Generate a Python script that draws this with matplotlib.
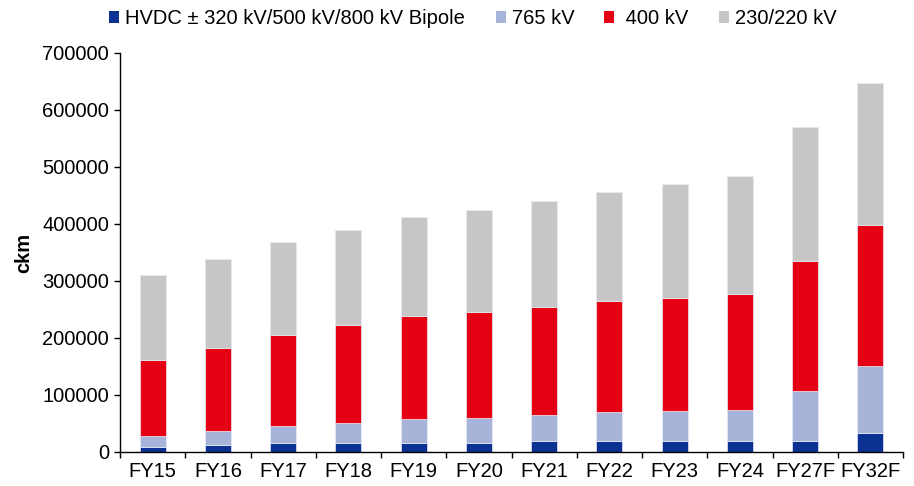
import matplotlib
matplotlib.use("Agg")
import matplotlib.pyplot as plt
import numpy as np
from matplotlib.ticker import FixedLocator
from matplotlib.patches import Patch

plt.rcParams['font.family'] = ['Liberation Sans', 'DejaVu Sans']

categories = ["FY15", "FY16", "FY17", "FY18", "FY19", "FY20", "FY21", "FY22", "FY23", "FY24", "FY27F", "FY32F"]
hvdc = [8000, 12000, 15000, 15000, 15000, 15000, 19000, 19000, 19000, 19000, 19000, 34000]
kv765 = [20000, 25000, 31000, 35000, 42000, 45000, 46000, 51000, 53000, 55000, 88000, 116000]
kv400 = [134000, 145000, 159000, 172000, 181000, 185000, 190000, 194000, 198000, 203000, 228000, 249000]
kv230 = [148000, 156000, 163000, 168000, 175000, 180000, 186000, 192000, 201000, 208000, 236000, 249000]

series = [
    ("HVDC \u00b1 320 kV/500 kV/800 kV Bipole", hvdc, "#0B3192"),
    ("765 kV", kv765, "#A7B3D9"),
    (" 400 kV", kv400, "#E60013"),
    ("230/220 kV", kv230, "#C6C6C6"),
]
legend_x_px = [109, 496, 604, 719]

FS = 14.5
fig = plt.figure(figsize=(9.14, 4.86), dpi=100)
ax = fig.add_axes([0.1313, 0.070, 0.8567, 0.821])

x = np.arange(len(categories))
bottom = np.zeros(len(categories))
for name, vals, col in series:
    ax.bar(x, vals, width=0.4, bottom=bottom, color=col, edgecolor="#E8EAF4", linewidth=0.5, label=name)
    bottom += np.array(vals)

ax.set_xlim(-0.5, len(categories) - 0.5)
ax.set_ylim(0, 700000)
ax.set_yticks(np.arange(0, 700001, 100000))
ax.set_yticklabels([str(v) for v in range(0, 700001, 100000)], fontsize=FS)
ax.set_xticks(x)
ax.set_xticklabels(categories, fontsize=FS)
ax.tick_params(axis='x', which='major', length=0, pad=7)
ax.xaxis.set_minor_locator(FixedLocator(np.arange(-0.5, len(categories), 1.0)))
ax.tick_params(axis='x', which='minor', length=4, direction='out', width=1)
ax.tick_params(axis='y', length=4, direction='out', width=1, pad=4)

for s in ['top', 'right']:
    ax.spines[s].set_visible(False)
for s in ['left', 'bottom']:
    ax.spines[s].set_linewidth(1)

ax.set_ylabel("ckm", fontsize=FS, fontweight='bold', labelpad=6)

W, H = 914, 486
for (name, vals, col), px in zip(series, legend_x_px):
    fig.legend(handles=[Patch(facecolor=col, edgecolor='none')], labels=[name],
               loc='upper left', bbox_to_anchor=(px / W, 1 - 9 / H), frameon=False,
               fontsize=FS, borderpad=0, borderaxespad=0,
               handlelength=0.5, handleheight=0.5, handletextpad=0.3)

fig.savefig("out.png", dpi=100)
